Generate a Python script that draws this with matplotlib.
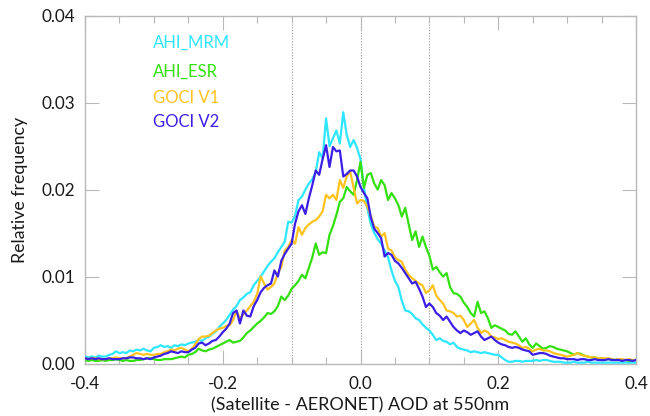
import numpy as np
import matplotlib
matplotlib.use("Agg")
import matplotlib.pyplot as plt
from matplotlib.ticker import MultipleLocator

# Bin centres of the difference (Satellite - AERONET) AOD at 550 nm
aod_diff = np.round(np.arange(-0.4, 0.4001, 0.005), 3)

# Relative frequency in units of 1e-4
ahi_mrm = [
    8, 7, 8, 7, 9, 8, 8, 10, 11, 14,
    12, 13, 12, 15, 14, 16, 15, 17, 15, 14,
    18, 19, 21, 19, 20, 18, 21, 20, 22, 21,
    23, 24, 25, 27, 26, 29, 31, 34, 37, 42,
    46, 50, 56, 62, 66, 73, 76, 80, 82, 90,
    95, 100, 106, 112, 117, 121, 128, 134, 140, 163,
    162, 170, 188, 192, 200, 207, 212, 220, 243, 236,
    282, 250, 259, 268, 253, 289, 263, 249, 257, 248,
    235, 202, 178, 160, 150, 143, 138, 130, 122, 107,
    95, 88, 72, 61, 60, 57, 52, 50, 45, 41,
    38, 33, 27, 29, 26, 25, 22, 24, 19, 17,
    16, 15, 13, 14, 13, 12, 13, 12, 11, 10,
    10, 7, 4, 2, 2, 3, 3, 2, 3, 3,
    3, 4, 3, 4, 4, 3, 2, 2, 2, 1,
    1, 1, 2, 1, 1, 1, 2, 1, 1, 1,
    1, 1, 1, 1, 1, 1, 1, 1, 1, 1,
    1,
]
ahi_esr = [
    4, 3, 4, 3, 3, 4, 3, 4, 4, 5,
    4, 3, 4, 3, 3, 4, 4, 5, 6, 6,
    5, 4, 4, 5, 5, 5, 6, 7, 8, 7,
    10, 11, 13, 17, 15, 14, 16, 17, 19, 21,
    23, 25, 27, 24, 25, 26, 30, 35, 38, 42,
    46, 49, 53, 58, 57, 60, 66, 77, 73, 78,
    86, 90, 95, 102, 98, 110, 122, 138, 125, 128,
    127, 148, 158, 171, 186, 190, 203, 198, 194, 211,
    232, 202, 217, 219, 207, 200, 211, 205, 188, 196,
    190, 182, 169, 179, 160, 142, 152, 134, 146, 134,
    124, 108, 111, 105, 100, 104, 88, 81, 80, 77,
    70, 65, 58, 54, 71, 58, 60, 52, 41, 44,
    42, 40, 38, 34, 33, 37, 31, 25, 29, 22,
    18, 23, 20, 17, 18, 20, 19, 17, 16, 15,
    14, 12, 10, 12, 11, 9, 8, 7, 7, 6,
    6, 5, 5, 5, 4, 5, 4, 4, 3, 4,
    4,
]
goci_v1 = [
    6, 5, 6, 6, 5, 5, 5, 6, 6, 7,
    6, 6, 6, 8, 10, 12, 11, 10, 11, 10,
    10, 11, 11, 13, 14, 16, 15, 17, 18, 16,
    14, 17, 22, 28, 31, 31, 32, 35, 38, 40,
    41, 43, 44, 50, 60, 52, 57, 61, 66, 71,
    80, 100, 92, 85, 88, 92, 104, 111, 130, 134,
    142, 138, 157, 148, 156, 160, 163, 165, 169, 175,
    194, 190, 194, 188, 211, 202, 215, 221, 202, 184,
    188, 187, 180, 170, 157, 156, 146, 150, 132, 130,
    122, 119, 117, 108, 102, 98, 95, 92, 90, 81,
    84, 90, 78, 73, 69, 61, 60, 58, 54, 55,
    50, 42, 46, 50, 41, 35, 38, 36, 31, 30,
    28, 29, 27, 25, 24, 23, 21, 18, 19, 17,
    14, 16, 17, 15, 15, 14, 12, 11, 10, 9,
    8, 9, 10, 12, 10, 9, 8, 7, 7, 6,
    6, 6, 6, 5, 4, 5, 5, 4, 5, 4,
    4,
]
goci_v2 = [
    6, 5, 6, 5, 6, 5, 5, 6, 5, 5,
    5, 6, 6, 7, 7, 6, 6, 5, 6, 5,
    7, 8, 9, 11, 12, 14, 13, 12, 14, 13,
    13, 16, 18, 23, 24, 21, 23, 26, 27, 31,
    36, 40, 46, 58, 61, 46, 61, 55, 54, 66,
    73, 82, 87, 90, 92, 107, 100, 118, 126, 132,
    138, 161, 175, 182, 172, 190, 205, 222, 217, 235,
    251, 226, 249, 244, 245, 215, 218, 222, 222, 215,
    203, 196, 190, 168, 155, 150, 144, 123, 127, 125,
    118, 115, 110, 104, 98, 92, 94, 86, 77, 65,
    69, 65, 58, 55, 50, 54, 48, 42, 38, 35,
    38, 36, 33, 35, 37, 31, 27, 29, 31, 27,
    24, 22, 21, 19, 18, 19, 18, 16, 15, 14,
    10, 11, 12, 12, 11, 9, 8, 7, 6, 6,
    5, 5, 5, 4, 5, 5, 4, 4, 5, 4,
    4, 4, 5, 4, 4, 4, 3, 4, 4, 3,
    4,
]

series_names = ["AHI_MRM", "AHI_ESR", "GOCI V1", "GOCI V2"]
series_values = [ahi_mrm, ahi_esr, goci_v1, goci_v2]
series_colors = ["#2ee6ff", "#33e010", "#ffc21e", "#3b1fe6"]

x_ticks = [-0.4, -0.2, 0.0, 0.2, 0.4]
y_ticks = [0.00, 0.01, 0.02, 0.03, 0.04]
ref_lines = [-0.1, 0.0, 0.1]

plt.rcParams["font.family"] = ["Lato", "DejaVu Sans"]

fig = plt.figure(figsize=(6.5, 4.16), dpi=100)
ax = fig.add_axes([85 / 650, 1 - 363.5 / 416, (636 - 85) / 650, (363.5 - 15.7) / 416])

for xv in ref_lines:
    ax.axvline(xv, color="#9a9a9a", lw=0.8, ls=(0, (1, 1.5)), zorder=1)

for vals, col in zip(series_values, series_colors):
    assert len(vals) == len(aod_diff)
    ax.plot(aod_diff, np.array(vals) / 10000.0, color=col, lw=1.6, zorder=3)

ax.set_xlim(-0.4, 0.4)
ax.set_ylim(0.0, 0.04)
ax.set_xticks(x_ticks)
ax.set_xticklabels([f"{v:.1f}" for v in x_ticks])
ax.set_yticks(y_ticks)
ax.set_yticklabels([f"{v:.2f}" for v in y_ticks])
ax.xaxis.set_minor_locator(MultipleLocator(0.05))

for s in ax.spines.values():
    s.set_color("#b8b8b8")
    s.set_linewidth(1.0)

ax.tick_params(axis="both", which="major", direction="in", length=10, width=0.8,
               color="#b8b8b8", labelsize=12.3, labelcolor="#1a1a1a",
               top=True, right=True)
ax.tick_params(axis="x", which="major", pad=9)
ax.tick_params(axis="y", which="major", pad=7)
ax.tick_params(axis="x", which="minor", direction="in", length=5, width=0.8,
               color="#b8b8b8", top=True, bottom=True)

ax.set_xlabel("(Satellite - AERONET) AOD at 550nm", fontsize=13, color="#1a1a1a", labelpad=4)
ax.set_ylabel("Relative frequency", fontsize=12.8, color="#1a1a1a", labelpad=10)

legend_y = [0.0369, 0.0335, 0.0305, 0.0278]
for name, col, yy in zip(series_names, series_colors, legend_y):
    ax.text(-0.301, yy, name, color=col, fontsize=12, va="center", ha="left")

fig.savefig("out.png", dpi=100)
